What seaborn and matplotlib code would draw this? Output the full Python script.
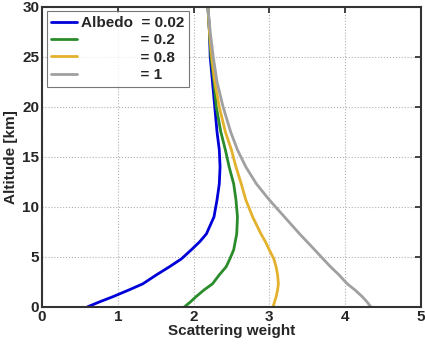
import pandas as pd
import numpy as np
import matplotlib
matplotlib.use("Agg")
import matplotlib.pyplot as plt
import seaborn as sns

# altitude grid [km] and scattering weights
altitude = [0, 0.5, 1, 1.7, 2.3, 3.2, 4, 4.8, 5.7, 6.5, 7.3, 9, 10.7, 12.3, 14,
            15.7, 17.5, 20, 22.5, 25, 27.5, 30]
w_002 = [0.60, 0.76, 0.93, 1.15, 1.33, 1.51, 1.68, 1.84, 1.97, 2.08, 2.17, 2.27, 2.31, 2.34, 2.35,
         2.34, 2.31, 2.28, 2.25, 2.22, 2.21, 2.19]
w_02 = [1.88, 1.96, 2.03, 2.14, 2.25, 2.34, 2.43, 2.48, 2.53, 2.55, 2.57, 2.58, 2.56, 2.53, 2.47,
        2.42, 2.36, 2.30, 2.27, 2.23, 2.21, 2.19]
w_08 = [3.05, 3.07, 3.09, 3.11, 3.12, 3.11, 3.09, 3.06, 3.00, 2.95, 2.89, 2.78, 2.69, 2.63, 2.56,
        2.50, 2.42, 2.34, 2.28, 2.24, 2.21, 2.19]
w_1 = [4.34, 4.29, 4.23, 4.13, 4.03, 3.92, 3.81, 3.71, 3.60, 3.50, 3.40, 3.20, 3.00, 2.83, 2.69,
       2.58, 2.49, 2.39, 2.31, 2.26, 2.22, 2.19]
labels = ["Albedo  = 0.02", "              = 0.2", "              = 0.8", "              = 1"]
colors = ["#0000d8", "#2a8c2a", "#e3b12c", "#a0a0a0"]

rows = []
for lab, w in zip(labels, [w_002, w_02, w_08, w_1]):
    for a, v in zip(altitude, w):
        rows.append({"weight": v, "alt": a, "albedo": lab})
df = pd.DataFrame(rows)

sns.set_style("white")
plt.rcParams["font.family"] = ["Liberation Sans", "DejaVu Sans"]
plt.rcParams["font.weight"] = "bold"
plt.rcParams["axes.labelweight"] = "bold"

fig = plt.figure(figsize=(4.25, 3.44), dpi=100)
ax = fig.add_axes([0.099, 0.108, 0.891, 0.872])
sns.lineplot(data=df, x="weight", y="alt", hue="albedo", palette=colors,
             sort=False, estimator=None, linewidth=2, ax=ax)

ax.set_xlim(0, 5)
ax.set_ylim(0, 30)
ax.set_xticks(range(0, 6))
ax.set_yticks(range(0, 31, 5))
ax.grid(True, linestyle=":", color="#b0b0b0", linewidth=0.8)
ax.tick_params(direction="in", top=True, right=True, labelsize=11, length=4, width=1.2, pad=2)
for s in ax.spines.values():
    s.set_color("#333333")
    s.set_linewidth(1.5)
ax.set_xlabel("Scattering weight", fontsize=11, labelpad=0)
ax.set_ylabel("Altitude [km]", fontsize=11, labelpad=3)

leg = ax.legend(title=None, loc="upper left", fontsize=11, frameon=True, fancybox=False,
                edgecolor="#555555", borderaxespad=0.3, handlelength=1.7,
                labelspacing=0.22, borderpad=0.3, handletextpad=0.25)
leg.get_frame().set_linewidth(0.8)

fig.savefig("out.png", dpi=100)
